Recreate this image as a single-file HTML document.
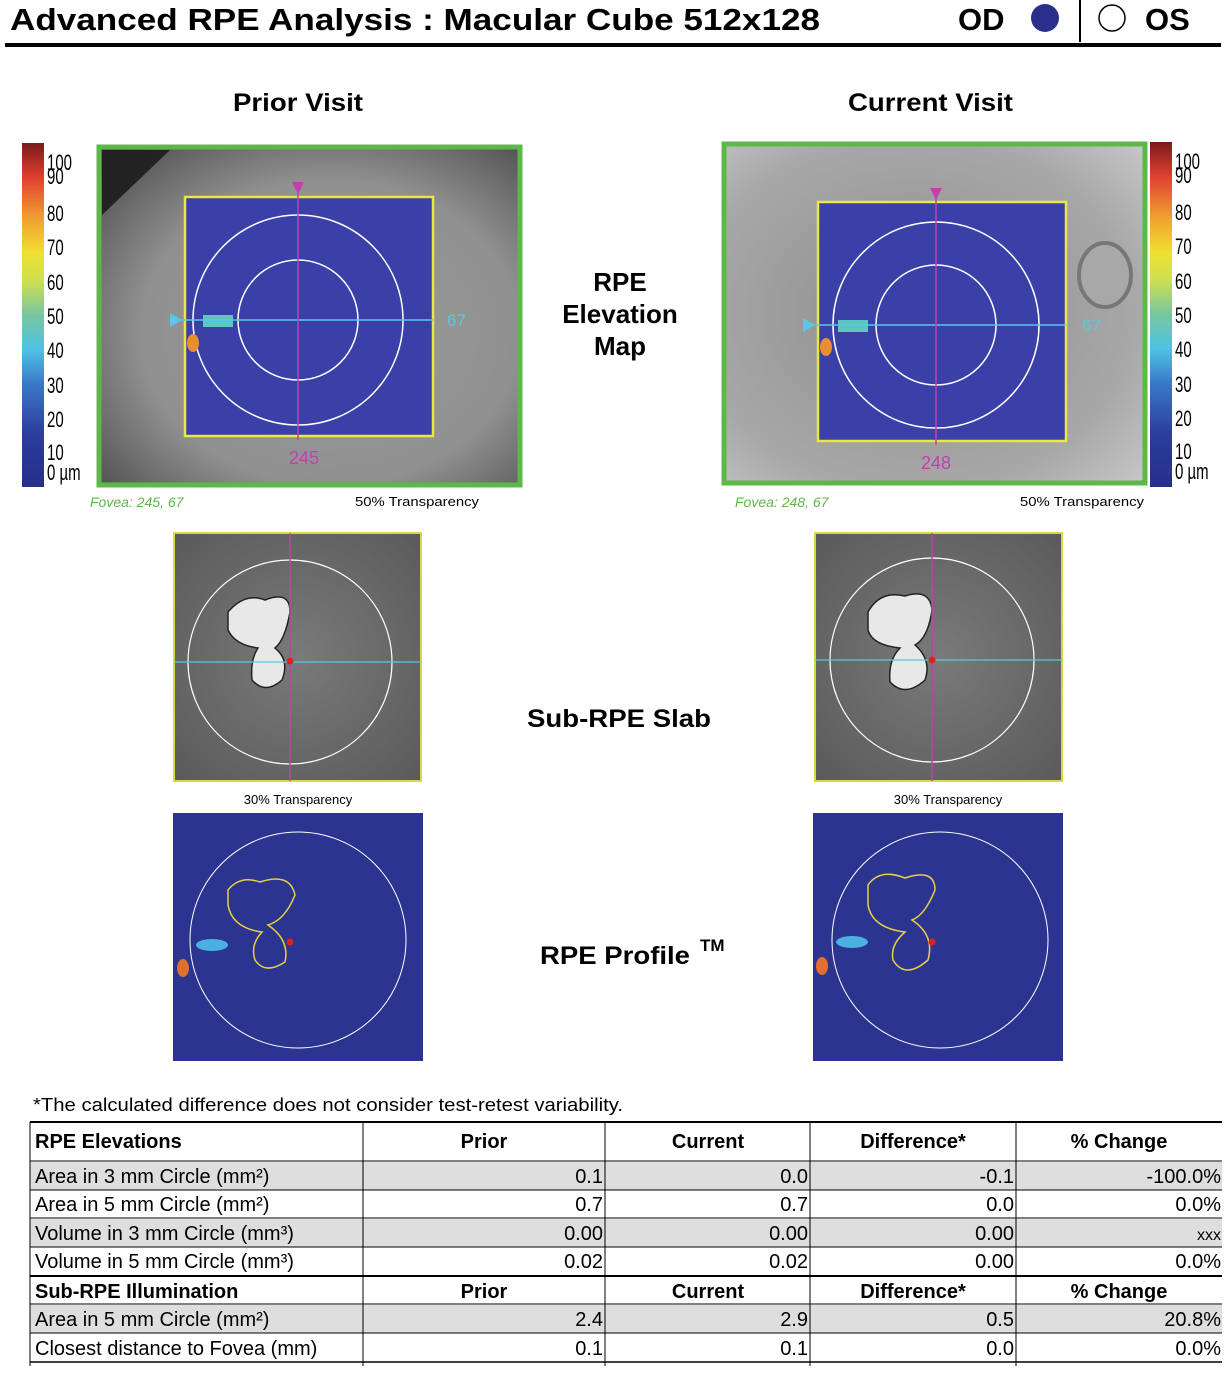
<!DOCTYPE html>
<html><head><meta charset="utf-8"><style>
body{margin:0;background:#fff;}
svg text{font-family:"Liberation Sans",sans-serif;}
</style></head><body>
<svg width="1228" height="1374" viewBox="0 0 1228 1374" xmlns="http://www.w3.org/2000/svg">
<defs>
<linearGradient id="cb" x1="0" y1="1" x2="0" y2="0">
<stop offset="0" stop-color="#26308a"/><stop offset="0.15" stop-color="#2a3c9c"/><stop offset="0.3" stop-color="#3a78c8"/>
<stop offset="0.4" stop-color="#4ec3e6"/><stop offset="0.5" stop-color="#78c6a0"/><stop offset="0.6" stop-color="#cde050"/>
<stop offset="0.68" stop-color="#f0e030"/><stop offset="0.78" stop-color="#f0a030"/><stop offset="0.9" stop-color="#e04030"/><stop offset="1" stop-color="#7a1a1a"/>
</linearGradient>
<radialGradient id="fund" cx="0.55" cy="0.55" r="0.75">
<stop offset="0" stop-color="#9c9c9c"/><stop offset="0.6" stop-color="#909090"/><stop offset="1" stop-color="#4a4a4a"/>
</radialGradient>
<radialGradient id="fund2" cx="0.45" cy="0.5" r="0.75">
<stop offset="0" stop-color="#8c8c8c"/><stop offset="0.7" stop-color="#a8a8a8"/><stop offset="1" stop-color="#c8c8c8"/>
</radialGradient>
<radialGradient id="slab" cx="0.5" cy="0.5" r="0.7">
<stop offset="0" stop-color="#7a7a7a"/><stop offset="1" stop-color="#5a5a5a"/>
</radialGradient>
</defs>

<!-- header -->
<text x="10" y="30" font-size="31" font-weight="bold" textLength="810" lengthAdjust="spacingAndGlyphs">Advanced RPE Analysis : Macular Cube 512x128</text>
<text x="958" y="30" font-size="31" font-weight="bold">OD</text>
<circle cx="1045" cy="18" r="14" fill="#2a2f8c"/>
<line x1="1080" y1="0" x2="1080" y2="42" stroke="#000" stroke-width="2"/>
<circle cx="1112" cy="18" r="13" fill="#fff" stroke="#000" stroke-width="1.5"/>
<text x="1145" y="30" font-size="31" font-weight="bold">OS</text>
<rect x="5" y="43" width="1216" height="4" fill="#000"/>

<text x="233" y="111" font-size="25" font-weight="bold" textLength="130" lengthAdjust="spacingAndGlyphs">Prior Visit</text>
<text x="848" y="111" font-size="25" font-weight="bold" textLength="165" lengthAdjust="spacingAndGlyphs">Current Visit</text>

<!-- left colorbar -->
<rect x="22" y="143" width="22" height="344" fill="url(#cb)"/>
<g font-size="22" transform="translate(47,0) scale(0.68,1)">
<text x="0" y="170">100</text><text x="0" y="184">90</text><text x="0" y="221">80</text><text x="0" y="255">70</text><text x="0" y="290">60</text><text x="0" y="324">50</text><text x="0" y="358">40</text><text x="0" y="393">30</text><text x="0" y="427">20</text><text x="0" y="460">10</text><text x="0" y="480">0 µm</text>
</g>
<!-- right colorbar -->
<rect x="1150" y="142" width="22" height="345" fill="url(#cb)"/>
<g font-size="22" transform="translate(1175,0) scale(0.68,1)">
<text x="0" y="169">100</text><text x="0" y="183">90</text><text x="0" y="220">80</text><text x="0" y="254">70</text><text x="0" y="289">60</text><text x="0" y="323">50</text><text x="0" y="357">40</text><text x="0" y="392">30</text><text x="0" y="426">20</text><text x="0" y="459">10</text><text x="0" y="479">0 µm</text>
</g>

<!-- prior elevation map -->
<rect x="99" y="147" width="421" height="338" fill="url(#fund)" stroke="#5cb848" stroke-width="5"/>
<path d="M102 150 L170 150 L102 215 Z" fill="#222"/>
<rect x="185" y="197" width="248" height="239" fill="#3b3fa8" stroke="#e8e840" stroke-width="2.5"/>
<circle cx="298" cy="320" r="105" fill="none" stroke="#fff" stroke-width="1.5"/>
<circle cx="298" cy="320" r="60" fill="none" stroke="#fff" stroke-width="1.5"/>
<rect x="203" y="315" width="30" height="12" fill="#5ac8c0"/>
<ellipse cx="193" cy="343" rx="6" ry="9" fill="#e89030"/>
<line x1="178" y1="320" x2="433" y2="320" stroke="#58c8e8" stroke-width="1.5"/>
<path d="M170 313 L182 320 L170 327 Z" fill="#58c8e8"/>
<text x="447" y="326" font-size="17" fill="#5cc8d8">67</text>
<line x1="298" y1="186" x2="298" y2="440" stroke="#c040b0" stroke-width="1.5"/>
<path d="M292 182 L304 182 L298 194 Z" fill="#c040b0"/>
<text x="304" y="464" font-size="18" fill="#c040b0" text-anchor="middle">245</text>
<text x="90" y="507" font-size="14" font-style="italic" fill="#5cb848">Fovea: 245, 67</text>
<text x="355" y="506" font-size="13" textLength="124" lengthAdjust="spacingAndGlyphs">50% Transparency</text>

<!-- current elevation map -->
<rect x="724" y="144" width="421" height="339" fill="url(#fund2)" stroke="#5cb848" stroke-width="5"/>
<ellipse cx="1105" cy="275" rx="26" ry="32" fill="#a8a8a8" stroke="#777" stroke-width="4"/>
<rect x="818" y="202" width="248" height="239" fill="#3b3fa8" stroke="#e8e840" stroke-width="2.5"/>
<circle cx="936" cy="325" r="103" fill="none" stroke="#fff" stroke-width="1.5"/>
<circle cx="936" cy="325" r="60" fill="none" stroke="#fff" stroke-width="1.5"/>
<rect x="838" y="320" width="30" height="12" fill="#5ac8c0"/>
<ellipse cx="826" cy="347" rx="6" ry="9" fill="#e89030"/>
<line x1="810" y1="325" x2="1066" y2="325" stroke="#58c8e8" stroke-width="1.5"/>
<path d="M803 318 L815 325 L803 332 Z" fill="#58c8e8"/>
<text x="1082" y="331" font-size="17" fill="#5cc8d8">67</text>
<line x1="936" y1="190" x2="936" y2="445" stroke="#c040b0" stroke-width="1.5"/>
<path d="M930 188 L942 188 L936 200 Z" fill="#c040b0"/>
<text x="936" y="469" font-size="18" fill="#c040b0" text-anchor="middle">248</text>
<text x="735" y="507" font-size="14" font-style="italic" fill="#5cb848">Fovea: 248, 67</text>
<text x="1020" y="506" font-size="13" textLength="124" lengthAdjust="spacingAndGlyphs">50% Transparency</text>

<text x="620" y="291" font-size="26" font-weight="bold" text-anchor="middle">RPE</text>
<text x="620" y="323" font-size="26" font-weight="bold" text-anchor="middle">Elevation</text>
<text x="620" y="355" font-size="26" font-weight="bold" text-anchor="middle">Map</text>

<!-- sub-RPE slab -->
<rect x="174" y="533" width="247" height="248" fill="url(#slab)" stroke="#d8d840" stroke-width="2"/>
<circle cx="290" cy="662" r="102" fill="none" stroke="#fff" stroke-width="1.2"/>
<path d="M228 612 Q245 592 265 600 Q290 590 290 612 Q285 640 275 648 Q290 660 282 680 Q265 695 252 680 Q250 660 258 648 Q235 645 228 630 Z" fill="#e8e8e8" stroke="#222" stroke-width="1.5"/>
<line x1="174" y1="662" x2="421" y2="662" stroke="#58c8e8" stroke-width="1.2"/>
<line x1="290" y1="533" x2="290" y2="781" stroke="#c040b0" stroke-width="1.5"/>
<circle cx="290" cy="661" r="3.5" fill="#e02020"/>
<rect x="815" y="533" width="247" height="248" fill="url(#slab)" stroke="#d8d840" stroke-width="2"/>
<circle cx="932" cy="660" r="102" fill="none" stroke="#fff" stroke-width="1.2"/>
<path d="M868 612 Q880 590 905 596 Q930 588 932 610 Q928 638 915 645 Q932 660 925 680 Q905 698 890 682 Q888 660 900 648 Q872 645 868 630 Z" fill="#e8e8e8" stroke="#222" stroke-width="1.5"/>
<line x1="815" y1="660" x2="1062" y2="660" stroke="#58c8e8" stroke-width="1.2"/>
<line x1="932" y1="533" x2="932" y2="781" stroke="#c040b0" stroke-width="1.5"/>
<circle cx="932" cy="660" r="3.5" fill="#e02020"/>
<text x="298" y="804" font-size="13" text-anchor="middle">30% Transparency</text>
<text x="948" y="804" font-size="13" text-anchor="middle">30% Transparency</text>
<text x="527" y="727" font-size="25" font-weight="bold" textLength="184" lengthAdjust="spacingAndGlyphs">Sub-RPE Slab</text>

<!-- RPE profile -->
<rect x="173" y="813" width="250" height="248" fill="#2b3590"/>
<circle cx="298" cy="940" r="108" fill="none" stroke="#fff" stroke-width="1"/>
<path d="M228 890 Q240 875 260 882 Q290 872 295 895 Q285 920 268 925 Q290 940 285 962 Q265 975 255 960 Q250 945 262 932 Q232 928 228 905 Z" fill="none" stroke="#e8d040" stroke-width="1.5"/>
<ellipse cx="212" cy="945" rx="16" ry="6" fill="#4ab0e0"/>
<ellipse cx="183" cy="968" rx="6" ry="9" fill="#e07030"/>
<circle cx="290" cy="942" r="3.5" fill="#e02020"/>
<rect x="813" y="813" width="250" height="248" fill="#2b3590"/>
<circle cx="940" cy="940" r="108" fill="none" stroke="#fff" stroke-width="1"/>
<path d="M868 885 Q880 868 905 878 Q935 868 935 890 Q925 915 912 920 Q935 935 928 960 Q905 980 893 960 Q890 945 905 932 Q872 928 868 905 Z" fill="none" stroke="#e8d040" stroke-width="1.5"/>
<ellipse cx="852" cy="942" rx="16" ry="6" fill="#4ab0e0"/>
<ellipse cx="822" cy="966" rx="6" ry="9" fill="#e07030"/>
<circle cx="932" cy="942" r="3.5" fill="#e02020"/>
<text x="540" y="964" font-size="25" font-weight="bold" textLength="150" lengthAdjust="spacingAndGlyphs">RPE Profile</text>
<text x="700" y="951" font-size="17" font-weight="bold">TM</text>

<!-- table -->
<text x="33" y="1111" font-size="18" textLength="590" lengthAdjust="spacingAndGlyphs">*The calculated difference does not consider test-retest variability.</text>
<g>
<rect x="30" y="1162" width="1192" height="28" fill="#dedede"/>
<rect x="30" y="1219" width="1192" height="28" fill="#dedede"/>
<rect x="30" y="1305" width="1192" height="28" fill="#dedede"/>
<g stroke="#000" stroke-width="1">
<line x1="30" y1="1122" x2="1222" y2="1122" stroke-width="2"/>
<line x1="30" y1="1161" x2="1222" y2="1161"/>
<line x1="30" y1="1190" x2="1222" y2="1190"/>
<line x1="30" y1="1218" x2="1222" y2="1218"/>
<line x1="30" y1="1247" x2="1222" y2="1247"/>
<line x1="30" y1="1276" x2="1222" y2="1276" stroke-width="2"/>
<line x1="30" y1="1304" x2="1222" y2="1304"/>
<line x1="30" y1="1333" x2="1222" y2="1333"/>
<line x1="30" y1="1362" x2="1222" y2="1362" stroke-width="1.5"/>
<line x1="30" y1="1122" x2="30" y2="1366"/>
<line x1="363" y1="1122" x2="363" y2="1366"/>
<line x1="605" y1="1122" x2="605" y2="1366"/>
<line x1="810" y1="1122" x2="810" y2="1366"/>
<line x1="1016" y1="1122" x2="1016" y2="1366"/>
</g>
<g font-size="20">
<g font-weight="bold"><text x="35" y="1148">RPE Elevations</text>
<text x="484" y="1148" text-anchor="middle">Prior</text><text x="708" y="1148" text-anchor="middle">Current</text><text x="913" y="1148" text-anchor="middle">Difference*</text><text x="1119" y="1148" text-anchor="middle">% Change</text>
<text x="35" y="1298">Sub-RPE Illumination</text>
<text x="484" y="1298" text-anchor="middle">Prior</text><text x="708" y="1298" text-anchor="middle">Current</text><text x="913" y="1298" text-anchor="middle">Difference*</text><text x="1119" y="1298" text-anchor="middle">% Change</text></g>
<text x="35" y="1183">Area in 3 mm Circle (mm²)</text><text x="603" y="1183" text-anchor="end">0.1</text><text x="808" y="1183" text-anchor="end">0.0</text><text x="1014" y="1183" text-anchor="end">-0.1</text><text x="1221" y="1183" text-anchor="end">-100.0%</text>
<text x="35" y="1211">Area in 5 mm Circle (mm²)</text><text x="603" y="1211" text-anchor="end">0.7</text><text x="808" y="1211" text-anchor="end">0.7</text><text x="1014" y="1211" text-anchor="end">0.0</text><text x="1221" y="1211" text-anchor="end">0.0%</text>
<text x="35" y="1240">Volume in 3 mm Circle (mm³)</text><text x="603" y="1240" text-anchor="end">0.00</text><text x="808" y="1240" text-anchor="end">0.00</text><text x="1014" y="1240" text-anchor="end">0.00</text><text x="1221" y="1240" text-anchor="end" font-size="16">xxx</text>
<text x="35" y="1268">Volume in 5 mm Circle (mm³)</text><text x="603" y="1268" text-anchor="end">0.02</text><text x="808" y="1268" text-anchor="end">0.02</text><text x="1014" y="1268" text-anchor="end">0.00</text><text x="1221" y="1268" text-anchor="end">0.0%</text>
<text x="35" y="1326">Area in 5 mm Circle (mm²)</text><text x="603" y="1326" text-anchor="end">2.4</text><text x="808" y="1326" text-anchor="end">2.9</text><text x="1014" y="1326" text-anchor="end">0.5</text><text x="1221" y="1326" text-anchor="end">20.8%</text>
<text x="35" y="1355">Closest distance to Fovea (mm)</text><text x="603" y="1355" text-anchor="end">0.1</text><text x="808" y="1355" text-anchor="end">0.1</text><text x="1014" y="1355" text-anchor="end">0.0</text><text x="1221" y="1355" text-anchor="end">0.0%</text>
</g>
</g>
</svg>
</body></html>
